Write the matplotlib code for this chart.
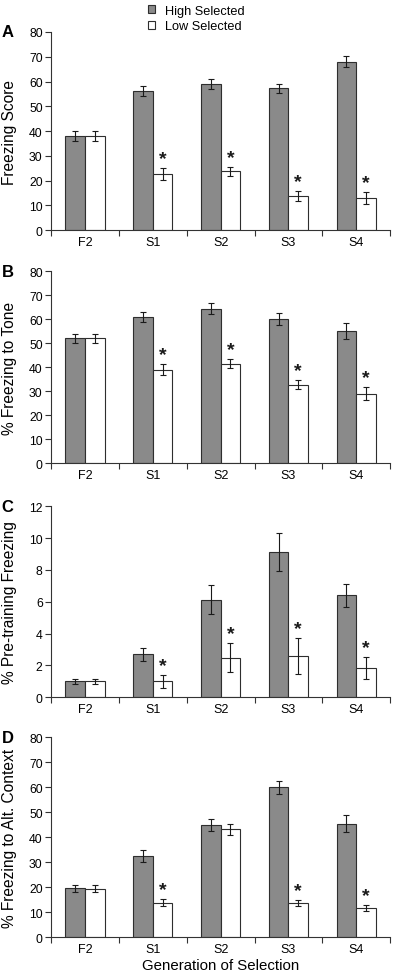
import numpy as np
from matplotlib import pyplot as plt
from matplotlib.patches import Patch

plt.rcParams['font.family'] = ['Liberation Sans', 'DejaVu Sans']

generations = ['F2', 'S1', 'S2', 'S3', 'S4']

# Panel A - Freezing Score
a_high = [38, 56.3, 59, 57.3, 68]
a_high_err = [2, 2, 2.2, 1.8, 2.3]
a_low = [38, 22.7, 23.7, 13.7, 13]
a_low_err = [2, 2.3, 1.8, 2, 2.5]
a_star = [False, True, True, True, True]

# Panel B - % Freezing to Tone
b_high = [52, 61, 64.3, 60, 55]
b_high_err = [2, 2.2, 2.3, 2.4, 3.3]
b_low = [52, 39, 41.5, 32.7, 29]
b_low_err = [1.8, 2.2, 2, 2, 2.8]
b_star = [False, True, True, True, True]

# Panel C - % Pre-training Freezing
c_high = [1.0, 2.7, 6.14, 9.13, 6.42]
c_high_err = [0.17, 0.4, 0.92, 1.17, 0.72]
c_low = [1.0, 1.0, 2.5, 2.6, 1.84]
c_low_err = [0.17, 0.4, 0.92, 1.15, 0.72]
c_star = [False, True, True, True, True]

# Panel D - % Freezing to Alt. Context
d_high = [19.6, 32.5, 45, 60, 45.5]
d_high_err = [1.5, 2.4, 2.4, 2.5, 3.3]
d_low = [19.5, 13.9, 43.2, 13.7, 11.6]
d_low_err = [1.4, 1.3, 2.3, 1.3, 1.2]
d_star = [False, True, False, True, True]

panels = [
    ('A', 'Freezing Score', 80, 10, a_high, a_high_err, a_low, a_low_err, a_star),
    ('B', '% Freezing to Tone', 80, 10, b_high, b_high_err, b_low, b_low_err, b_star),
    ('C', '% Pre-training Freezing', 12, 2, c_high, c_high_err, c_low, c_low_err, c_star),
    ('D', '% Freezing to Alt. Context', 80, 10, d_high, d_high_err, d_low, d_low_err, d_star),
]

# axes boxes in figure fraction: left, bottom, width, height
boxes = [
    [0.1275, 0.764, 0.848, 0.2023],
    [0.1275, 0.526, 0.848, 0.1959],
    [0.1275, 0.2867, 0.848, 0.1951],
    [0.1275, 0.0416, 0.848, 0.2043],
]

dark = '#8a8a8a'
edge = '#2e2e2e'
fig = plt.figure(figsize=(4, 9.79), dpi=100)
x = np.arange(len(generations))
w = 0.29

for (lab, ylab, ymax, step, hi, hie, lo, loe, star), box in zip(panels, boxes):
    ax = fig.add_axes(box)
    ax.bar(x - w / 2, hi, w, color=dark, edgecolor=edge, linewidth=0.8)
    ax.bar(x + w / 2, lo, w, color='white', edgecolor=edge, linewidth=0.8)
    ax.errorbar(x - w / 2, hi, yerr=hie, fmt='none', ecolor='#1a1a1a', elinewidth=0.8, capsize=2, capthick=0.8)
    ax.errorbar(x + w / 2, lo, yerr=loe, fmt='none', ecolor='#1a1a1a', elinewidth=0.8, capsize=2, capthick=0.8)
    for i in range(len(generations)):
        if star[i]:
            ax.text(x[i] + w / 2, lo[i] + loe[i] + ymax * 0.004, '*', ha='center', va='bottom',
                    fontsize=14, fontweight='bold', color='#1a1a1a')
    ax.set_xlim(-0.5, len(generations) - 0.5)
    ax.set_ylim(0, ymax)
    ax.set_yticks(np.arange(0, ymax + step / 2, step))
    ax.set_xticks(x)
    ax.set_xticklabels(generations)
    ax.set_xticks(np.arange(-0.5, len(generations), 1.0), minor=True)
    ax.tick_params(axis='x', which='major', length=0, labelsize=9, pad=4)
    ax.tick_params(axis='x', which='minor', length=4, width=0.8, color='#333333')
    ax.tick_params(axis='y', length=4, width=0.8, labelsize=8.8, pad=2, color='#333333')
    for s in ['top', 'right']:
        ax.spines[s].set_visible(False)
    for s in ['left', 'bottom']:
        ax.spines[s].set_linewidth(0.8)
        ax.spines[s].set_color('#333333')
    ax.set_ylabel(ylab, fontsize=11.2)
    ax.yaxis.set_label_coords(-0.1, 0.5)
    ax.text(-0.145, 1.0, lab, transform=ax.transAxes, fontsize=12, fontweight='bold', va='center', ha='left')

ax.set_xlabel('Generation of Selection', fontsize=10.8, labelpad=2)

handles = [Patch(facecolor=dark, edgecolor=edge, linewidth=0.8, label='High Selected'),
           Patch(facecolor='white', edgecolor=edge, linewidth=0.8, label='Low Selected')]
fig.legend(handles=handles, loc='upper left', bbox_to_anchor=(0.34, 1.006), frameon=False,
           fontsize=9.2, handlelength=0.6, handleheight=0.6, handletextpad=0.8, labelspacing=0.3)

fig.savefig('out.png', dpi=100)
